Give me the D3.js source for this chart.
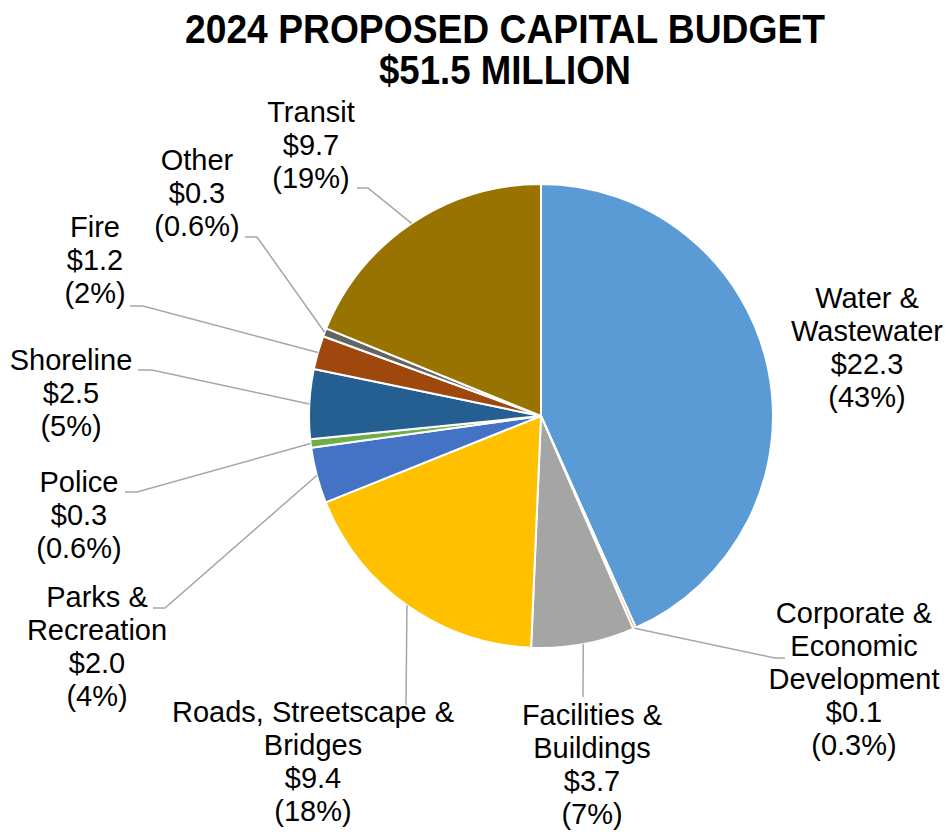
<!DOCTYPE html>
<html>
<head>
<meta charset="utf-8">
<script src="https://cdn.jsdelivr.net/npm/d3@7"></script>
<style>
  body { margin: 0; background: #fff; }
</style>
</head>
<body>
<svg id="chart" width="951" height="834"></svg>
<script>
// Capital budget by program area, in $ millions
const categories = [
  "Water & Wastewater", "Corporate & Economic Development", "Facilities & Buildings",
  "Roads, Streetscape & Bridges", "Parks & Recreation", "Police", "Shoreline",
  "Fire", "Other", "Transit"
];
const nameLines = [
  ["Water &", "Wastewater"], ["Corporate &", "Economic", "Development"],
  ["Facilities &", "Buildings"], ["Roads, Streetscape &", "Bridges"],
  ["Parks &", "Recreation"], ["Police"], ["Shoreline"], ["Fire"], ["Other"], ["Transit"]
];
const values = [22.3, 0.1, 3.7, 9.4, 2.0, 0.3, 2.5, 1.2, 0.3, 9.7];
const shareLabels = ["43%", "0.3%", "7%", "18%", "4%", "0.6%", "5%", "2%", "0.6%", "19%"];
const colors = ["#5B9BD5", "#ED7D31", "#A5A5A5", "#FFC000", "#4472C4", "#70AD47",
                "#255E91", "#9E480E", "#636363", "#997300"];
const titleLines = ["2024 PROPOSED CAPITAL BUDGET", "$51.5 MILLION"];

// Label placement: text centre x, first baseline, and leader-line bend points
const labelLayout = [
  { x: 867, y: 308, bend: null },
  { x: 854, y: 623, bend: [[775, 658], [785, 658]] },
  { x: 592, y: 725, bend: [[583, 697]] },
  { x: 313, y: 722, bend: [[406, 705]] },
  { x: 97,  y: 607, bend: [[165, 608], [153, 608]] },
  { x: 79,  y: 492, bend: [[137, 492], [125, 492]] },
  { x: 71,  y: 370, bend: [[152, 370], [138, 370]] },
  { x: 95,  y: 237, bend: [[143, 306], [130, 306]] },
  { x: 197, y: 170, bend: [[257, 237], [245, 237]] },
  { x: 311, y: 122, bend: [[368, 188], [357, 188]] }
];

const cx = 541, cy = 416, radius = 232, lineH = 33;
const svg = d3.select("#chart");

// Title, set in a condensed bold face
const titleWidths = [640, 252];
svg.append("text")
  .attr("x", 505).attr("text-anchor", "middle")
  .attr("font-family", "'Liberation Sans Narrow', 'Arial Narrow', 'Liberation Sans', Arial, sans-serif")
  .attr("font-weight", "bold").attr("font-size", 40).attr("fill", "#000")
  .selectAll("tspan").data(titleLines).join("tspan")
  .attr("x", 505).attr("y", (d, i) => 43 + i * 41)
  .attr("textLength", (d, i) => titleWidths[i])
  .attr("lengthAdjust", "spacingAndGlyphs")
  .text(d => d);

const data = values.map((v, i) => ({
  name: categories[i], value: v, lines: nameLines[i], share: shareLabels[i],
  color: colors[i], layout: labelLayout[i]
}));

const pie = d3.pie().value(d => d.value).sort(null);
const arcs = pie(data);
const arc = d3.arc().innerRadius(0).outerRadius(radius);

const g = svg.append("g").attr("transform", `translate(${cx},${cy})`);
g.selectAll("path.slice").data(arcs).join("path")
  .attr("class", "slice")
  .attr("d", arc)
  .attr("fill", d => d.data.color)
  .attr("stroke", "#fff").attr("stroke-width", 2).attr("stroke-linejoin", "round");

// Leader lines from the slice edge at its mid angle to the label
const line = d3.line();
svg.selectAll("path.leader").data(arcs.filter(d => d.data.layout.bend)).join("path")
  .attr("class", "leader")
  .attr("d", d => {
    const a = (d.startAngle + d.endAngle) / 2;
    const start = [cx + radius * Math.sin(a), cy - radius * Math.cos(a)];
    return line([start, ...d.data.layout.bend]);
  })
  .attr("fill", "none").attr("stroke", "#A6A6A6").attr("stroke-width", 1.5);

// Data labels: name, value and share
svg.selectAll("text.label").data(arcs).join("text")
  .attr("class", "label")
  .attr("text-anchor", "middle")
  .attr("font-family", "'Liberation Sans', Arial, sans-serif")
  .attr("font-size", 29).attr("fill", "#000")
  .each(function (d) {
    const L = d.data.layout;
    const rows = [...d.data.lines, "$" + d3.format(".1f")(d.data.value), "(" + d.data.share + ")"];
    d3.select(this).selectAll("tspan").data(rows).join("tspan")
      .attr("x", L.x).attr("y", (r, i) => L.y + i * lineH).text(r => r);
  });
</script>
</body>
</html>
